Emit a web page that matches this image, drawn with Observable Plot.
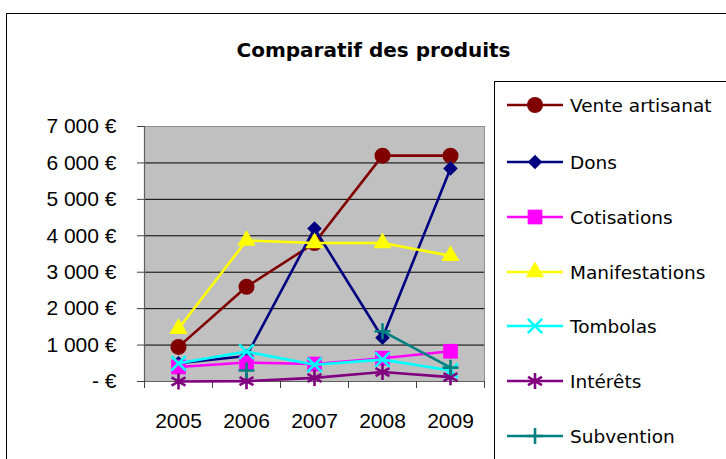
<!DOCTYPE html>
<html><head><meta charset="utf-8">
<script src="https://cdn.jsdelivr.net/npm/d3@7"></script>
<script src="https://cdn.jsdelivr.net/npm/@observablehq/plot@0.6"></script>
<style>
body{margin:0;background:#fff;width:726px;height:459px;overflow:hidden;position:relative;}
#frame{position:absolute;left:6px;top:13px;width:760px;height:480px;border:1px solid #000;box-sizing:border-box;}
#title{position:absolute;left:0;top:37px;width:747px;text-align:center;font:bold 20px "DejaVu Sans",sans-serif;line-height:26px;}
#chart{position:absolute;left:0;top:0;}
#legend{position:absolute;left:494px;top:81px;width:300px;height:420px;border:1px solid #000;background:#fff;}
.item{position:absolute;left:12px;height:30px;display:flex;align-items:center;font:18.5px "DejaVu Sans",sans-serif;color:#000;white-space:nowrap;}
.item svg{margin-right:7px;}
</style>
</head><body>
<div id="frame"></div>
<div id="chart"></div>
<div id="title">Comparatif des produits</div>
<div id="legend"></div>
<script>
// ---- data ----
const years = [2005, 2006, 2007, 2008, 2009];
const venteArtisanat = [950, 2600, 3800, 6200, 6200];
const dons = [500, 700, 4200, 1200, 5850];
const cotisations = [400, 520, 480, 640, 830];
const manifestations = [1450, 3870, 3800, 3800, 3450];
const tombolas = [500, 820, 460, 600, 300];
const interets = [0, 10, 100, 260, 120];
const subvention = [null, 300, null, 1380, 380];
const seriesNames = ["Vente artisanat", "Dons", "Cotisations", "Manifestations", "Tombolas", "Intérêts", "Subvention"];
const yTicks = [0, 1000, 2000, 3000, 4000, 5000, 6000, 7000];

const series = [
  {name: seriesNames[0], values: venteArtisanat, color: "#800000", symbol: "circle", r: 8, filled: true},
  {name: seriesNames[1], values: dons, color: "#000080", symbol: "diamond2", r: 6.6, filled: true},
  {name: seriesNames[2], values: cotisations, color: "#FF00FF", symbol: "square", r: 8.3, filled: true},
  {name: seriesNames[3], values: manifestations, color: "#FFFF00", symbol: "triangle", r: 6.8, filled: true},
  {name: seriesNames[4], values: tombolas, color: "#00FFFF", symbol: "times", r: 6.6, filled: false},
  {name: seriesNames[5], values: interets, color: "#800080", symbol: "asterisk", r: 7.6, filled: false},
  {name: seriesNames[6], values: subvention, color: "#008080", symbol: "plus", r: 5.2, filled: false}
];

const table = s => years.map((year, i) => ({year, value: s.values[i] == null ? NaN : s.values[i]}));

const fmt = d3.formatLocale({thousands: " ", grouping: [3], decimal: ","}).format(",.0f");
const yFormat = d => d === 0 ? "- €" : fmt(d) + " €";
const xBounds = [years[0] - 0.5, ...years.map(y => y + 0.5)];

const marks = [
  Plot.frame({fill: "#C0C0C0", stroke: "#909090"}),
  Plot.ruleY(yTicks.filter(d => d > 0 && d < 7000), {stroke: "#000", strokeWidth: 1}),
  Plot.ruleX([xBounds[0]], {stroke: "#606060", strokeWidth: 1.2}),
  Plot.ruleY([0], {stroke: "#606060", strokeWidth: 1.2}),
  Plot.axisY({ticks: yTicks, tickFormat: yFormat, tickSize: 7, tickPadding: 21, fontSize: 21, fontFamily: "Liberation Sans, Arial, sans-serif", stroke: "#404040", color: "#000", label: null}),
  Plot.axisX({ticks: xBounds, tickFormat: () => "", tickSize: 7, stroke: "#404040", label: null}),
  Plot.axisX({ticks: years, tickFormat: d => String(d), tickSize: 0, tickPadding: 32, fontSize: 21, fontFamily: "Liberation Sans, Arial, sans-serif", color: "#000", label: null})
];
for (const s of series) {
  const data = table(s);
  marks.push(Plot.line(data, {x: "year", y: "value", stroke: s.color, strokeWidth: 2.6}));
  marks.push(Plot.dot(data, s.filled
    ? {x: "year", y: "value", symbol: () => s.symbol, r: s.r, fill: s.color, stroke: "none"}
    : {x: "year", y: "value", symbol: () => s.symbol, r: s.r, fill: "none", stroke: s.color, strokeWidth: 2.6}));
}

const chart = Plot.plot({
  width: 726, height: 459,
  marginLeft: 144, marginRight: 242, marginTop: 126, marginBottom: 78,
  x: {type: "linear", domain: [xBounds[0], xBounds[xBounds.length - 1]], axis: null, label: null},
  y: {type: "linear", domain: [0, 7000], axis: null, label: null},
  symbol: {type: "identity"},
  style: {background: "transparent", overflow: "visible"},
  marks
});
document.getElementById("chart").appendChild(chart);

// ---- legend ----
const legend = d3.select("#legend");
const symMap = {circle: d3.symbolCircle, diamond2: d3.symbolDiamond2, square: d3.symbolSquare, triangle: d3.symbolTriangle, times: d3.symbolTimes, asterisk: d3.symbolAsterisk, plus: d3.symbolPlus};
const centers = [23, 80, 135, 190, 244, 299, 354];
series.forEach((s, i) => {
  const item = legend.append("div").attr("class", "item").style("top", (centers[i] - 15) + "px");
  const svg = item.append("svg").attr("width", 56).attr("height", 30);
  svg.append("line").attr("x1", 0).attr("x2", 56).attr("y1", 15).attr("y2", 15).attr("stroke", s.color).attr("stroke-width", 2.6);
  svg.append("path").attr("transform", "translate(28,15)")
    .attr("d", d3.symbol(symMap[s.symbol], Math.PI * s.r * s.r)())
    .attr("fill", s.filled ? s.color : "none")
    .attr("stroke", s.filled ? "none" : s.color)
    .attr("stroke-width", 2.6);
  item.append("span").text(s.name);
});
</script>
</body></html>
